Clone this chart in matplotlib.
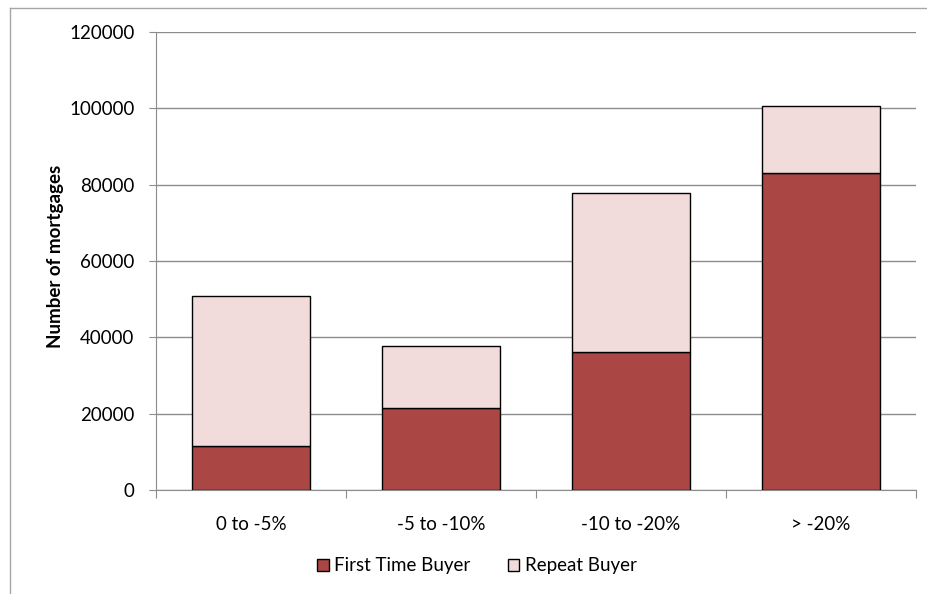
import numpy as np
import matplotlib
matplotlib.use("Agg")
from matplotlib import pyplot as plt
from matplotlib.lines import Line2D

categories = ["0 to -5%", "-5 to -10%", "-10 to -20%", "> -20%"]
first_time = [11500, 21500, 36100, 83000]
repeat = [39200, 16300, 41700, 17600]
yticks = [0, 20000, 40000, 60000, 80000, 100000, 120000]

plt.rcParams['font.family'] = ['Lato', 'DejaVu Sans']

fig = plt.figure(figsize=(9.28, 5.94), dpi=100)
ax = fig.add_axes([156/928, 1-490/594, (916-156)/928, (490-32)/594])

x = np.arange(len(categories))
w = 0.625
ax.bar(x, first_time, w, color="#AA4643", edgecolor="black", linewidth=1, label="First Time Buyer", zorder=3)
ax.bar(x, repeat, w, bottom=first_time, color="#F2DCDB", edgecolor="black", linewidth=1, label="Repeat Buyer", zorder=3)

ax.set_xlim(-0.5, len(categories)-0.5)
ax.set_ylim(0, 120000)
ax.set_yticks(yticks)
ax.set_yticklabels([str(v) for v in yticks], fontsize=13.5)
ax.yaxis.grid(True, color="#8c8c8c", linewidth=1, zorder=0)
ax.set_axisbelow(True)

# category ticks between bars, labels centred under bars
ax.set_xticks(np.arange(len(categories)+1)-0.5)
ax.set_xticklabels([])
ax.set_xticks(x, minor=True)
ax.set_xticklabels(categories, minor=True, fontsize=13.5)
ax.tick_params(axis="x", which="minor", length=0, pad=19)
ax.tick_params(axis="x", which="major", length=6, color="#8c8c8c", direction="out")
ax.tick_params(axis="y", length=5, color="#8c8c8c", direction="out", pad=10.5)

for s in ["top", "right"]:
    ax.spines[s].set_visible(False)
for s in ["left", "bottom"]:
    ax.spines[s].set_color("#8c8c8c")

ax.set_ylabel("Number of mortgages", fontsize=13.5, fontweight="bold")
ax.yaxis.set_label_coords((64-156)/760, 0.51)

leg = fig.legend(loc="center", bbox_to_anchor=(477/928, 1-566/594), ncol=2, frameon=False,
                 fontsize=13.5, handlelength=0.6, handleheight=0.6, handletextpad=0.3, columnspacing=2.0)

# chart area border (left and top only visible)
fig.add_artist(Line2D([10/928, 10/928], [0, 1-8/594], transform=fig.transFigure, color="#a6a6a6", lw=1))
fig.add_artist(Line2D([10/928, 1], [1-8/594, 1-8/594], transform=fig.transFigure, color="#a6a6a6", lw=1))

fig.savefig("out.png", dpi=100)
